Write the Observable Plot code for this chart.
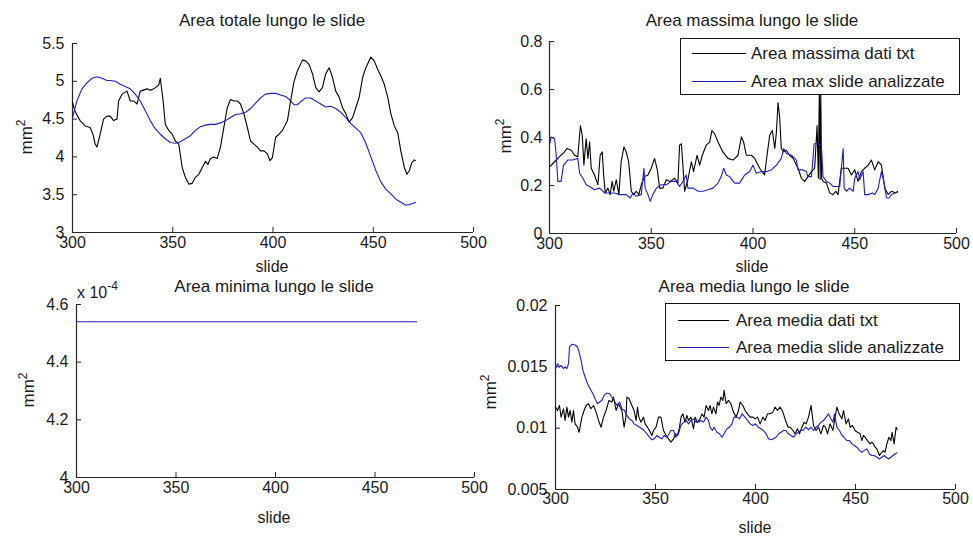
<!DOCTYPE html>
<html>
<head>
<meta charset="utf-8">
<script src="https://cdn.jsdelivr.net/npm/d3@7"></script>
<script src="https://cdn.jsdelivr.net/npm/@observablehq/plot@0.6"></script>
<style>
  html, body { margin: 0; padding: 0; background: #fff; }
  #root { position: relative; width: 973px; height: 540px; overflow: hidden; background: #fff;
          font-family: "Liberation Sans", Arial, sans-serif; color: #1a1a1a; }
  .abs { position: absolute; white-space: nowrap; line-height: 1.1; }
  .ctr { transform: translate(-50%, -50%); }
  .title { font-size: 17px; }
  .lab { font-size: 16px; }
  .ylab { font-size: 17px; transform: translate(-50%, -50%) rotate(-90deg); }
  .ylab sup { font-size: 12px; }
  .legend { position: absolute; background: #fff; border: 1px solid #111; box-sizing: border-box; font-size: 17px; }
  .legrow { position: absolute; left: 0; height: 20px; }
  .legrow .sw { position: absolute; top: 9px; height: 0; border-top: 1.2px solid; }
  .legrow .tx { position: absolute; top: 0; line-height: 20px; }
</style>
</head>
<body>
<div id="root"></div>
<script>
// ---------------- DATA ----------------
const xTicks = [300, 350, 400, 450, 500];
const xTickLabels = ["300", "350", "400", "450", "500"];
const xDomain = [300, 500];

const titles = ["Area totale lungo le slide", "Area massima lungo le slide", "Area minima lungo le slide", "Area media lungo le slide"];
const xLabel = "slide";
const yUnit = "mm";

const legendMax = ["Area massima dati txt", "Area max slide analizzate"];
const legendMed = ["Area media dati txt", "Area media slide analizzate"];

// Panel 1: Area totale
const totYTicks = [3, 3.5, 4, 4.5, 5, 5.5];
const totYLabels = ["3", "3.5", "4", "4.5", "5", "5.5"];
const totaleTxt = [[300,4.72],[301.3,4.60],[303.8,4.48],[306.3,4.41],[308.8,4.39],[310.2,4.30],[311.3,4.17],[312.2,4.13],[313.8,4.30],[315.5,4.50],[317.2,4.54],[318.8,4.54],[320.5,4.48],[322.2,4.50],[323,4.74],[324.7,4.83],[327.2,4.87],[328.8,4.74],[330.5,4.74],[332.2,4.70],[333.8,4.87],[337.2,4.90],[338.8,4.88],[340.5,4.90],[343,4.95],[343.8,5.04],[345.2,4.74],[346.3,4.43],[348,4.35],[349.7,4.30],[351.3,4.21],[353,4.17],[354.7,3.86],[356.3,3.73],[358,3.64],[359.7,3.65],[361.3,3.73],[363,3.77],[364.7,3.86],[366.3,3.94],[367.5,3.90],[368.8,3.98],[370.5,4.00],[372.2,3.98],[373.8,4.13],[375.5,4.39],[377.2,4.65],[378.8,4.76],[380.5,4.74],[382.2,4.74],[383.8,4.70],[385.5,4.57],[387.2,4.39],[388.8,4.21],[390.5,4.17],[392.2,4.13],[393.8,4.08],[395.5,4.08],[397.2,4.04],[398.5,3.95],[399.7,3.99],[401.3,4.26],[403,4.30],[404.7,4.35],[407.2,4.48],[408.8,4.74],[410.5,5.00],[412.2,5.14],[414.7,5.28],[416.3,5.27],[418,5.22],[419.7,5.10],[421.3,4.92],[423,4.86],[424.7,4.92],[426.3,5.10],[428,5.18],[429.7,5.05],[431.3,4.87],[433,4.79],[434.7,4.65],[436.3,4.57],[438,4.46],[439.7,4.52],[441.3,4.65],[443,4.79],[444.7,5.05],[446.3,5.18],[448.8,5.32],[450.5,5.27],[452.2,5.16],[453.8,5.07],[455.5,4.96],[457.2,4.79],[458.8,4.57],[460.5,4.41],[462.2,4.32],[463.8,4.07],[465.5,3.86],[466.8,3.77],[468,3.82],[469.2,3.92],[470.5,3.96],[471,3.95]];
const totaleAn = [[300,4.52],[302.2,4.74],[304.7,4.90],[307.2,4.98],[309.7,5.04],[312.2,5.06],[314.7,5.04],[317.2,5.01],[318.8,5.01],[321.3,5.00],[323.8,4.96],[326.3,4.93],[328.8,4.90],[331.3,4.83],[333.8,4.74],[336.3,4.61],[338.8,4.48],[341.3,4.37],[343.8,4.30],[346.3,4.24],[348.8,4.19],[351.3,4.18],[353.8,4.20],[356.3,4.24],[358.8,4.28],[361.3,4.35],[363.8,4.40],[366.3,4.42],[368.8,4.43],[371.3,4.43],[373.8,4.45],[376.3,4.48],[378.8,4.52],[381.3,4.56],[383.8,4.57],[386.3,4.59],[388.8,4.64],[391.3,4.71],[393.8,4.78],[396.3,4.83],[398.8,4.84],[401.3,4.84],[403.8,4.82],[406.3,4.80],[408.8,4.74],[410.5,4.69],[412.2,4.69],[413.8,4.73],[416.3,4.78],[418.8,4.78],[421.3,4.74],[423.8,4.70],[426.3,4.66],[428.8,4.67],[431.3,4.64],[433.8,4.59],[436.3,4.52],[438.8,4.44],[441.3,4.38],[443.8,4.32],[446.3,4.18],[448.8,4.00],[451.3,3.82],[453.8,3.67],[456.3,3.57],[458.8,3.51],[461.3,3.44],[463.8,3.40],[466.3,3.36],[468,3.37],[470.5,3.39],[471,3.40]];

// Panel 2: Area massima
const maxYTicks = [0, 0.2, 0.4, 0.6, 0.8];
const maxYLabels = ["0", "0.2", "0.4", "0.6", "0.8"];
const massimaTxt = [[300,0.278],[302.5,0.299],[304.9,0.320],[307.4,0.340],[308.5,0.354],[310.7,0.347],[312.3,0.326],[313.9,0.320],[315.2,0.450],[316.1,0.409],[316.9,0.285],[318.0,0.395],[318.9,0.313],[319.7,0.381],[320.5,0.272],[322.1,0.244],[323.8,0.203],[324.9,0.326],[325.9,0.340],[326.6,0.244],[327.4,0.169],[328.7,0.189],[329.8,0.162],[330.8,0.217],[331.6,0.176],[332.8,0.224],[334.1,0.162],[335.2,0.299],[336.6,0.361],[337.7,0.340],[338.9,0.299],[340.2,0.176],[341.3,0.162],[342.6,0.176],[343.9,0.162],[345.1,0.203],[346.7,0.237],[348.4,0.244],[350.0,0.272],[351.6,0.313],[353.0,0.265],[354.1,0.189],[355.7,0.189],[357.4,0.224],[359.3,0.217],[361.5,0.230],[363.1,0.210],[363.9,0.368],[364.8,0.374],[365.6,0.278],[366.4,0.176],[368.0,0.224],[369.7,0.299],[370.8,0.258],[372.5,0.326],[373.8,0.285],[375.1,0.326],[377.0,0.368],[378.7,0.381],[379.8,0.429],[381.1,0.416],[382.8,0.381],[385.2,0.340],[387.7,0.313],[390.2,0.306],[392.6,0.326],[394.3,0.402],[395.4,0.381],[396.7,0.326],[399.2,0.326],[400.8,0.313],[403.3,0.272],[405.7,0.244],[406.9,0.326],[408.2,0.409],[409.5,0.429],[410.7,0.354],[411.5,0.422],[412.3,0.546],[413.1,0.484],[413.9,0.354],[415.1,0.340],[416.4,0.347],[418.0,0.326],[419.7,0.313],[422.1,0.272],[423.8,0.230],[425.4,0.217],[427.0,0.237],[428.7,0.258],[430.3,0.272],[431.5,0.450],[432.1,0.230],[432.6,0.600],[433.0,0.225],[433.3,0.600],[433.7,0.230],[434.4,0.217],[436.1,0.210],[437.7,0.169],[439.3,0.162],[440.7,0.176],[441.8,0.162],[443.4,0.272],[445.1,0.272],[446.7,0.272],[448.4,0.244],[450.0,0.265],[451.6,0.217],[453.3,0.258],[454.9,0.272],[456.6,0.285],[458.2,0.306],[459.8,0.265],[461.5,0.299],[463.1,0.285],[464.8,0.189],[466.4,0.162],[468.0,0.176],[470.2,0.169],[471,0.176]];
const massimaAn = [[300,0.368],[300.8,0.402],[302.5,0.395],[303.3,0.326],[304.1,0.217],[305.7,0.217],[306.9,0.285],[309.0,0.306],[311.5,0.306],[313.9,0.313],[314.8,0.251],[316.4,0.230],[318.0,0.203],[319.7,0.196],[322.1,0.182],[324.6,0.189],[327.0,0.169],[329.5,0.169],[332.0,0.169],[334.4,0.162],[337.7,0.162],[339.7,0.148],[341.0,0.169],[342.6,0.155],[345.1,0.162],[346.4,0.272],[347.0,0.189],[348.4,0.162],[349.5,0.134],[350.8,0.162],[352.5,0.189],[354.9,0.203],[357.4,0.203],[359.8,0.217],[362.3,0.217],[363.9,0.196],[365.6,0.217],[367.2,0.244],[368.0,0.189],[370.5,0.189],[373.0,0.176],[375.4,0.176],[377.9,0.182],[380.3,0.189],[382.8,0.210],[384.4,0.237],[385.6,0.272],[386.9,0.244],[388.5,0.237],[391.0,0.210],[393.4,0.210],[395.9,0.244],[398.4,0.258],[400.0,0.285],[401.6,0.251],[404.1,0.258],[406.6,0.258],[409.0,0.265],[411.5,0.285],[413.9,0.313],[415.1,0.354],[416.4,0.333],[418.9,0.326],[421.3,0.306],[422.1,0.265],[424.6,0.265],[426.2,0.258],[427.0,0.237],[428.7,0.237],[429.5,0.313],[430.0,0.374],[432.0,0.374],[433.6,0.368],[434.4,0.237],[436.1,0.217],[437.7,0.210],[439.3,0.196],[441.0,0.196],[442.6,0.196],[444.3,0.354],[444.8,0.189],[445.9,0.176],[447.5,0.189],[449.2,0.176],[450.0,0.230],[451.6,0.258],[452.5,0.224],[454.1,0.258],[454.9,0.162],[456.6,0.162],[458.7,0.169],[459.8,0.162],[461.5,0.189],[463.1,0.258],[464.3,0.217],[465.6,0.148],[466.9,0.148],[468.0,0.162],[469.7,0.169],[471,0.172]];

// Panel 3: Area minima
const minYTicks = [4.0e-4, 4.2e-4, 4.4e-4, 4.6e-4];
const minYLabels = ["4", "4.2", "4.4", "4.6"];
const minYDomain = [4.0e-4, 4.6e-4];
const minimaAn = [[300, 4.54e-4], [471, 4.54e-4]];
const minMultiplier = ["x 10", "-4"];

// Panel 4: Area media
const medYTicks = [0.005, 0.01, 0.015, 0.02];
const medYLabels = ["0.005", "0.01", "0.015", "0.02"];
const mediaTxt = [[300.0,0.01172],[301.0,0.01144],[302.0,0.01185],[302.8,0.01090],[304.0,0.01158],[304.8,0.01063],[305.7,0.01172],[306.5,0.01090],[307.3,0.01144],[308.2,0.01049],[309.0,0.01144],[309.8,0.01035],[311.0,0.01008],[311.8,0.00967],[313.2,0.01090],[314.3,0.01144],[315.3,0.01185],[316.5,0.01199],[317.7,0.01158],[319.0,0.01185],[320.3,0.01131],[321.5,0.01063],[322.8,0.01008],[324.0,0.01090],[325.3,0.01144],[326.7,0.01226],[328.2,0.01213],[329.0,0.01253],[330.3,0.01144],[331.5,0.01199],[333.2,0.01144],[334.3,0.01008],[335.2,0.01090],[335.7,0.01253],[336.8,0.01240],[338.2,0.01185],[339.3,0.01144],[340.3,0.01063],[341.0,0.01172],[341.7,0.01090],[342.7,0.01049],[344.0,0.01090],[344.8,0.01035],[346.0,0.01008],[347.0,0.00981],[348.2,0.00940],[349.0,0.00981],[350.3,0.01008],[351.5,0.01090],[352.7,0.01090],[354.0,0.00981],[355.3,0.00940],[356.5,0.00913],[357.7,0.00886],[359.0,0.00913],[360.0,0.00954],[361.0,0.00940],[362.0,0.01008],[362.8,0.01090],[363.7,0.01117],[364.8,0.01049],[365.7,0.01104],[366.5,0.01063],[367.7,0.01090],[369.0,0.00995],[369.8,0.01090],[371.0,0.01049],[372.3,0.01076],[373.2,0.01117],[374.3,0.01090],[375.3,0.01185],[376.5,0.01144],[377.3,0.01185],[378.2,0.01117],[379.0,0.01172],[380.2,0.01117],[381.0,0.01213],[381.8,0.01185],[382.7,0.01253],[383.7,0.01226],[384.3,0.01308],[385.3,0.01199],[386.5,0.01226],[387.7,0.01199],[389.0,0.01131],[390.3,0.01090],[391.5,0.01144],[392.3,0.01213],[393.7,0.01185],[394.8,0.01144],[396.0,0.01117],[397.3,0.01090],[398.7,0.01090],[399.8,0.01076],[401.0,0.01090],[402.3,0.01035],[403.7,0.01090],[404.8,0.01063],[406.0,0.01117],[407.3,0.01117],[408.7,0.01131],[409.8,0.01172],[411.0,0.01144],[412.3,0.01172],[413.7,0.01131],[415.0,0.01063],[416.3,0.01008],[417.3,0.01008],[418.7,0.00981],[419.8,0.00954],[421.0,0.00995],[422.0,0.00954],[423.2,0.01008],[424.3,0.01049],[425.3,0.01035],[426.5,0.01090],[427.8,0.01185],[428.5,0.01090],[429.0,0.01022],[430.3,0.00981],[431.5,0.01008],[432.7,0.00954],[434.0,0.01022],[435.0,0.01008],[436.0,0.00954],[437.3,0.01035],[438.7,0.00981],[439.8,0.01090],[440.7,0.01172],[441.8,0.01117],[443.2,0.01076],[444.0,0.01144],[445.3,0.01035],[446.5,0.01076],[447.3,0.01008],[448.5,0.01022],[449.8,0.00981],[451.0,0.00967],[452.3,0.00954],[453.2,0.00899],[454.0,0.00940],[454.8,0.00926],[456.0,0.00899],[457.3,0.00872],[458.2,0.00886],[459.0,0.00872],[459.8,0.00845],[460.7,0.00831],[462.0,0.00777],[463.2,0.00804],[464.0,0.00817],[464.8,0.00804],[465.7,0.00872],[466.7,0.00926],[467.7,0.00899],[468.3,0.00967],[469.3,0.00872],[470.3,0.01008],[470.8,0.00990]];
const mediaAn = [[300.0,0.01485],[301.0,0.01526],[302.0,0.01499],[302.8,0.01512],[304.0,0.01485],[304.8,0.01499],[305.7,0.01485],[306.5,0.01526],[307.0,0.01662],[308.2,0.01684],[309.8,0.01678],[311.0,0.01662],[312.0,0.01608],[312.8,0.01553],[313.7,0.01471],[314.8,0.01417],[316.0,0.01362],[317.3,0.01322],[318.7,0.01281],[319.8,0.01240],[321.0,0.01199],[322.0,0.01213],[323.2,0.01226],[324.3,0.01267],[325.7,0.01286],[327.0,0.01281],[328.2,0.01253],[329.3,0.01226],[330.7,0.01185],[332.0,0.01213],[333.2,0.01158],[334.5,0.01144],[335.7,0.01104],[337.0,0.01076],[338.2,0.01063],[339.3,0.01035],[340.7,0.01022],[342.0,0.01008],[343.2,0.00995],[344.3,0.00981],[345.7,0.00954],[347.0,0.00926],[348.2,0.00905],[349.3,0.00913],[350.7,0.00940],[351.8,0.00926],[353.2,0.00913],[354.3,0.00940],[355.7,0.00926],[356.8,0.00954],[357.7,0.00981],[359.0,0.00981],[360.2,0.00926],[361.5,0.00954],[362.7,0.01022],[364.0,0.01049],[365.3,0.01063],[366.5,0.01035],[367.7,0.01063],[369.0,0.01076],[370.3,0.01049],[371.5,0.01049],[372.7,0.01063],[374.0,0.01049],[375.3,0.01090],[376.5,0.01063],[377.3,0.01008],[378.5,0.00981],[379.3,0.01008],[380.7,0.00967],[382.0,0.00954],[383.2,0.00926],[384.3,0.00954],[385.7,0.00995],[387.0,0.01008],[388.2,0.01035],[389.3,0.01090],[390.7,0.01090],[392.0,0.01076],[393.3,0.01117],[394.7,0.01090],[396.0,0.01063],[397.3,0.01035],[398.7,0.01022],[400.0,0.01035],[401.3,0.01008],[402.7,0.00995],[404.0,0.00981],[405.3,0.00954],[406.5,0.00913],[407.7,0.00905],[409.0,0.00913],[410.3,0.00926],[411.5,0.00954],[412.8,0.00967],[414.0,0.00981],[415.3,0.00981],[416.5,0.00954],[417.7,0.00940],[419.0,0.00926],[420.3,0.00954],[421.5,0.00967],[422.7,0.00981],[424.0,0.00986],[425.3,0.01008],[426.5,0.00986],[427.7,0.01008],[429.0,0.00981],[430.3,0.01008],[431.5,0.01022],[432.7,0.01049],[434.0,0.01063],[435.3,0.01090],[436.5,0.01117],[437.7,0.01076],[438.7,0.01049],[439.5,0.01117],[440.7,0.01008],[442.0,0.00981],[443.2,0.00940],[444.3,0.00926],[445.7,0.00899],[447.0,0.00899],[448.2,0.00872],[449.3,0.00858],[450.7,0.00845],[452.0,0.00817],[453.2,0.00804],[454.3,0.00817],[455.7,0.00831],[457.0,0.00790],[458.2,0.00777],[459.3,0.00777],[460.7,0.00763],[462.0,0.00749],[463.2,0.00763],[464.3,0.00777],[465.3,0.00763],[466.5,0.00749],[467.7,0.00763],[468.7,0.00777],[470.3,0.00796],[470.8,0.00800]];

// ---------------- STYLE ----------------
const BLACK = "#000000";
const BLUE = "#1f1fbf";
const AXIS = "#262626";
const TICKFONT = '"Liberation Sans Narrow", "Arial Narrow", "Liberation Sans", Arial, sans-serif';

const root = document.getElementById("root");

function addText(html, x, y, cls) {
  const d = document.createElement("div");
  d.className = "abs " + cls;
  d.style.left = x + "px";
  d.style.top = y + "px";
  d.innerHTML = html;
  root.appendChild(d);
  return d;
}

function panel(cfg) {
  const plotW = cfg.width - cfg.mL - cfg.mR;
  const plotH = cfg.height - cfg.mT - cfg.mB;
  const yFmt = d => cfg.yLabels[cfg.yTicks.findIndex(t => Math.abs(t - d) < 1e-12)];
  const xFmt = d => xTickLabels[xTicks.indexOf(d)];
  const marks = [
    Plot.ruleX([xDomain[0]], {stroke: AXIS, strokeWidth: 1.2}),
    Plot.ruleY([cfg.yDomain[0]], {stroke: AXIS, strokeWidth: 1.2}),
    Plot.tickX(xTicks, {x: d => d, stroke: AXIS, insetTop: plotH - 5}),
    Plot.tickY(cfg.yTicks, {y: d => d, stroke: AXIS, insetRight: plotW - 5}),
    Plot.axisX(xTicks, {tickSize: 0, tickPadding: cfg.xPad, tickFormat: xFmt, label: null}),
    Plot.axisY(cfg.yTicks, {tickSize: 0, tickPadding: cfg.yPad, tickFormat: yFmt, label: null})
  ];
  for (const s of cfg.series) {
    marks.push(Plot.line(s.data, {x: d => d[0], y: d => d[1], stroke: s.color, strokeWidth: 1.1}));
  }
  const svg = Plot.plot({
    width: cfg.width, height: cfg.height,
    marginLeft: cfg.mL, marginRight: cfg.mR, marginTop: cfg.mT, marginBottom: cfg.mB,
    x: {domain: xDomain},
    y: {domain: cfg.yDomain},
    style: {fontFamily: TICKFONT, fontSize: "16px", color: "#1a1a1a", background: "transparent", overflow: "visible"},
    marks
  });
  svg.style.position = "absolute";
  svg.style.left = cfg.left + "px";
  svg.style.top = cfg.top + "px";
  root.appendChild(svg);
}

function legend(names, colors, x, y, w, h, lineX0, lineX1, textX, rowYs) {
  const box = document.createElement("div");
  box.className = "legend";
  box.style.left = x + "px"; box.style.top = y + "px";
  box.style.width = w + "px"; box.style.height = h + "px";
  names.forEach((n, i) => {
    const row = document.createElement("div");
    row.className = "legrow";
    row.style.top = (rowYs[i] - 10) + "px";
    row.style.width = w + "px";
    const sw = document.createElement("div");
    sw.className = "sw";
    sw.style.left = lineX0 + "px";
    sw.style.width = (lineX1 - lineX0) + "px";
    sw.style.borderTopColor = colors[i];
    const tx = document.createElement("div");
    tx.className = "tx";
    tx.style.left = textX + "px";
    tx.textContent = n;
    row.appendChild(sw); row.appendChild(tx);
    box.appendChild(row);
  });
  root.appendChild(box);
}

// Panel 1
panel({left: 0, top: 0, width: 486, height: 270, mL: 72, mR: 13, mT: 43, mB: 38,
  yDomain: [3, 5.5], yTicks: totYTicks, yLabels: totYLabels, xPad: 4, yPad: 8,
  series: [{data: totaleTxt, color: BLACK}, {data: totaleAn, color: BLUE}]});
// Panel 2
panel({left: 486, top: 0, width: 487, height: 270, mL: 63, mR: 17, mT: 41, mB: 37,
  yDomain: [0, 0.8], yTicks: maxYTicks, yLabels: maxYLabels, xPad: 4, yPad: 7,
  series: [{data: massimaTxt, color: BLACK}, {data: massimaAn, color: BLUE}]});
// Panel 3
panel({left: 0, top: 270, width: 486, height: 270, mL: 76, mR: 12, mT: 34, mB: 63,
  yDomain: minYDomain, yTicks: minYTicks, yLabels: minYLabels, xPad: 4, yPad: 8,
  series: [{data: minimaAn, color: BLUE}]});
// Panel 4
panel({left: 486, top: 270, width: 487, height: 270, mL: 69, mR: 18, mT: 35, mB: 51,
  yDomain: [0.005, 0.02], yTicks: medYTicks, yLabels: medYLabels, xPad: 3, yPad: 8,
  series: [{data: mediaTxt, color: BLACK}, {data: mediaAn, color: BLUE}]});

// Titles
addText(titles[0], 272, 21, "ctr title");
addText(titles[1], 752, 21, "ctr title");
addText(titles[2], 274, 287, "ctr title");
addText(titles[3], 754, 287, "ctr title");
// x labels
addText(xLabel, 272, 267, "ctr lab");
addText(xLabel, 752, 267, "ctr lab");
addText(xLabel, 274, 518, "ctr lab");
addText(xLabel, 755, 528, "ctr lab");
// y labels
const mm2 = yUnit + "<sup>2</sup>";
addText(mm2, 26, 137, "ylab");
addText(mm2, 505, 136, "ylab");
addText(mm2, 28, 390, "ylab");
addText(mm2, 490, 392, "ylab");
// exponent multiplier for panel 3
addText(minMultiplier[0] + "<sup style='font-size:12px;position:relative;top:-2px'>" + minMultiplier[1] + "</sup>", 77, 282, "lab");

// Legends
legend(legendMax, [BLACK, BLUE], 680, 38, 280, 57, 11, 65, 70, [15, 43]);
legend(legendMed, [BLACK, BLUE], 665, 303, 295, 58, 12, 63, 70, [17, 44]);
</script>
</body>
</html>
